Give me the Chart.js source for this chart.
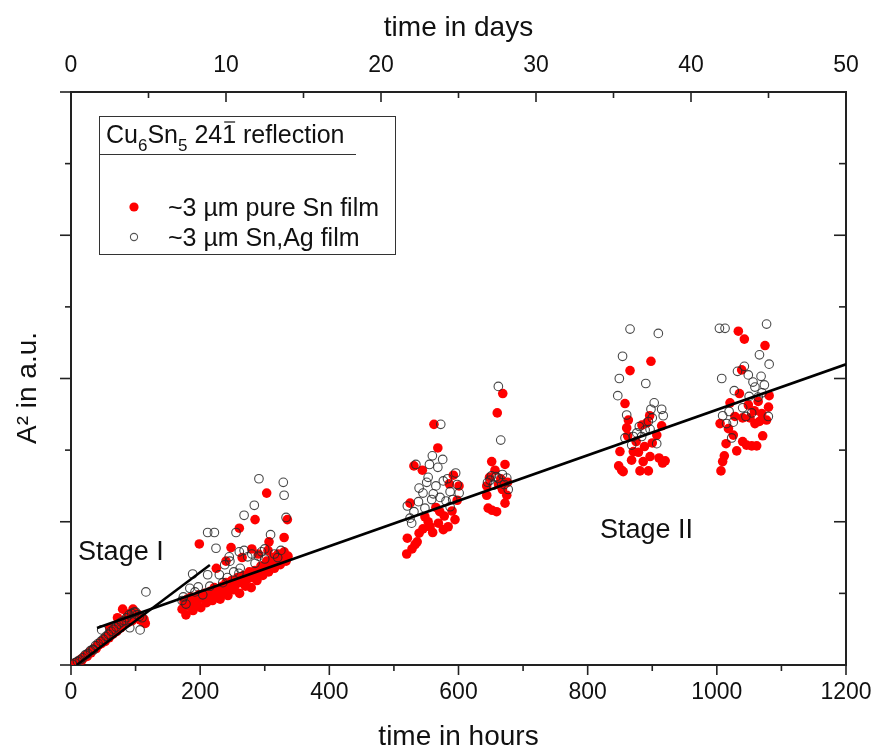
<!DOCTYPE html>
<html>
<head>
<meta charset="utf-8">
<script src="https://cdn.jsdelivr.net/npm/chart.js@4/dist/chart.umd.min.js"></script>
<style>
html,body{margin:0;padding:0;background:#fff;}
#wrap{width:874px;height:751px;position:relative;}
</style>
</head>
<body>
<div id="wrap"><canvas id="c" width="874" height="751"></canvas></div>
<script>
// ---- data (hours, A² in a.u.) ----
const pureSnPoints = [
 [1,0.00],[3,0.01],[5,0.02],[7,0.03],[9,0.03],[11,0.05],[13,0.06],[15,0.08],[17,0.07],[19,0.10],
 [21,0.12],[23,0.13],[25,0.12],[27,0.16],[29,0.18],[31,0.17],[33,0.21],[35,0.22],[37,0.24],[39,0.23],
 [41,0.27],[43,0.28],[45,0.31],[47,0.30],[49,0.34],[51,0.35],[53,0.33],[55,0.39],[57,0.40],[59,0.38],
 [61,0.44],[63,0.45],[65,0.43],[67,0.49],[69,0.50],[71,0.47],[73,0.54],[75,0.55],[77,0.52],[79,0.58],
 [81,0.60],[83,0.57],[85,0.63],[87,0.62],[89,0.60],[91,0.67],[93,0.65],[95,0.62],[97,0.70],[99,0.68],
 [101,0.72],[103,0.66],[105,0.70],[107,0.63],[109,0.67],[111,0.61],[113,0.64],[115,0.58],
 [80,0.78],[72,0.66],[60,0.52],[96,0.78],[88,0.71],
 [172,0.78],[175,0.88],[178,0.70],[180,0.92],[183,0.82],[186,0.95],[189,0.76],[192,0.90],[195,0.85],[198,0.98],
 [201,0.80],[204,0.93],[207,1.00],[210,0.87],[213,0.95],[216,1.03],[219,0.90],[222,1.08],[225,0.98],[228,1.05],
 [231,0.92],[234,1.10],[237,1.02],[240,1.15],[243,0.97],[246,1.08],[249,1.18],[252,1.05],[255,1.12],[258,1.22],
 [261,1.00],[264,1.15],[267,1.25],[270,1.10],[273,1.20],[276,1.30],[279,1.08],[282,1.22],[285,1.32],[288,1.18],
 [291,1.28],[294,1.38],[297,1.25],[300,1.35],[303,1.45],[306,1.30],[309,1.40],[312,1.50],[315,1.35],[318,1.45],
 [321,1.55],[324,1.40],[327,1.50],[330,1.58],[333,1.45],[336,1.52],
 [303,2.40],[285,2.03],[260.6,1.91],[335,2.03],[198.7,1.69],[247.8,1.64],[330,1.78],[306.6,1.72],[290,1.55],
 [280,1.62],[265,1.50],[240,1.45],[225,1.35],[305,1.60],[318,1.52],
 [562,3.36],[568,3.03],[531,2.78],[544,2.72],[592,2.65],[600.8,2.50],[585.8,2.53],[525,2.26],[520.8,1.77],
 [519.8,1.55],[532.7,1.68],[539,1.84],[556,1.93],[548,2.07],[568.8,1.98],[576.5,1.89],[584,1.93],[594.6,2.03],
 [571,2.14],[545,1.90],[528,1.62],[560,1.85],[578,2.08],[590,2.15],[553,2.00],[536,1.72],[598,2.30],[565,2.20],
 [668.5,3.79],[660,3.52],[651.4,2.84],[672,2.80],[656.5,2.72],[665.4,2.60],[643.7,2.50],[643.7,2.37],[674.7,2.37],
 [672,2.26],[646,2.19],[659,2.14],[652,2.16],[668,2.45],[662,2.52],[648,2.62],[676,2.55],
 [898,4.24],[865.6,4.11],[857.8,3.65],[863,3.42],[860.4,3.31],[891.5,3.38],[914.6,3.34],[907,3.21],[875,3.12],
 [850,2.98],[870.7,2.98],[878.6,2.97],[896.6,2.91],[910.5,2.89],[868,2.86],[886,2.84],[916,2.82],[852.6,2.72],
 [881,2.71],[894,2.71],[855,2.70],[888,3.05],[900,3.10],[862,3.20],[920,2.85],[848,2.78],[884,3.35],[896,3.48],
 [1033.3,4.66],[1042.6,4.55],[1074.6,4.46],[1038.5,4.12],[1035,3.79],[1081,3.76],[1020.4,3.66],[1048.8,3.63],
 [1064,3.68],[1069.5,3.51],[1028,3.47],[1005,3.37],[1040,3.45],[1051.4,3.45],[1059,3.37],[1077,3.42],[1025.5,3.21],
 [1071,3.20],[1014.3,3.09],[1040,3.12],[1046,3.07],[1054,3.06],[1061.7,3.06],[1030.8,2.99],[1011.6,2.92],
 [1009,2.84],[1006.4,2.71],[1066,3.40],[1018,3.30],[1058,3.55],[1080,3.60]
];
const snAgPoints = [
 [2,0.01],[6,0.03],[10,0.05],[14,0.07],[18,0.10],[22,0.14],[26,0.16],[30,0.20],[34,0.22],[38,0.27],
 [42,0.30],[46,0.33],[50,0.36],[54,0.40],[58,0.43],[62,0.47],[66,0.50],[70,0.53],[74,0.57],[78,0.60],
 [82,0.62],[86,0.66],[90,0.70],[94,0.72],[98,0.74],[102,0.70],[106,0.68],[110,0.66],
 [47.5,0.49],[100,0.74],[116,1.02],[34.6,0.21],[91,0.52],[107,0.49],
 [291,2.60],[328.7,2.55],[330,2.37],[283.8,2.23],[268,2.09],[333,2.06],[211.6,1.85],[222,1.85],[255.5,1.85],
 [224.5,1.63],[309,1.82],[260.6,1.58],[245,1.51],[246,1.45],[273.6,1.51],[188.4,1.27],[211.6,1.26],[229.7,1.26],
 [242,1.22],[184,1.07],[197,1.09],[174,0.95],[204,0.98],[280,1.55],[295,1.58],[300,1.48],[315,1.55],[320,1.50],
 [178,0.85],[192,1.02],[215,1.10],[235,1.15],[252,1.30],[262,1.35],[285,1.42],[300,1.62],[325,1.60],[268,1.60],
 [290,1.52],[172,0.90],[260,1.28],[238,1.40],
 [572.5,3.36],[559.5,2.92],[575.5,2.87],[534,2.80],[555,2.80],[568,2.76],[550.8,2.55],[576.5,2.57],[595.6,2.68],
 [539,2.47],[561,2.39],[571.4,2.34],[587,2.42],[601,2.40],[538,2.28],[558.5,2.31],[580.7,2.29],[591,2.31],
 [520.8,2.22],[548,2.19],[587,2.21],[531,2.14],[527.5,1.98],[545,2.40],[583,2.60],[598,2.52],[565,2.50],
 [525,2.05],[553,2.62],
 [661.7,3.89],[665.4,3.14],[648.8,2.58],[661.6,2.61],[674.7,2.61],[654,2.51],[677,2.45],[645,2.55],[668,2.66],
 [658,2.63],[671,2.52],[651,2.64],
 [865.6,4.69],[909.4,4.63],[854,4.31],[849,4.00],[890,3.93],[846.6,3.76],[903,3.66],[898,3.57],[914.6,3.57],
 [917,3.48],[860.4,3.49],[880,3.33],[894,3.40],[896.6,3.29],[857.8,3.17],[870.7,3.19],[883.6,3.19],[868.2,3.07],
 [906.9,3.09],[876,3.24],[889,3.28],[900,3.45],
 [1004,4.70],[1012.7,4.70],[1077,4.76],[1066,4.33],[1081,4.20],[1042.6,4.17],[1032,4.10],[1048.7,4.05],
 [1007.6,4.00],[1068.5,4.03],[1073.6,3.91],[1059,3.88],[1027,3.83],[1050,3.75],[1064,3.74],[1040,3.59],
 [1019,3.54],[1054,3.52],[1009,3.48],[1045,3.47],[1015,3.37],[1025.4,3.39],[1079.7,3.47],[1023,3.17],
 [1070,3.80],[1056,3.95]
];
const stageIFit = [[8.8,0.0],[215,1.397]];
const stageIIFit = [[40.3,0.517],[1200,4.198]];

// ---- ticks / labels ----
const hourTicks = [0,100,200,300,400,500,600,700,800,900,1000,1100,1200];
const hourLabels = [0,200,400,600,800,1000,1200];
const dayTicks = [0,5,10,15,20,25,30,35,40,45,50];
const dayLabels = [0,10,20,30,40,50];
const a2Ticks = [0,1,2,3,4,5,6,7,8];
const a2MajorTicks = [0,2,4,6,8];
const yTitle = 'A\u00b2 in a.u.';
const stageLabels = [
  {text:'Stage I', h:11, v:1.57},
  {text:'Stage II', h:819, v:1.88}
];

const FONT = "'Liberation Sans', Arial, Helvetica, sans-serif";
const toXY = arr => arr.map(p => ({x:p[0], y:p[1]}));
const noPadH = s => { s.paddingLeft = 0; s.paddingRight = 0; };
const noPadV = s => { s.paddingTop = 0; s.paddingBottom = 0; };

const decorPlugin = {
  id:'decor',
  afterDraw(chart){
    const {ctx, chartArea:a, scales} = chart;
    const X = scales.x, X2 = scales.x2, Y = scales.y;
    ctx.save();
    ctx.strokeStyle = '#222';
    ctx.lineWidth = 1.6;
    const seg = (x1,y1,x2,y2)=>{ctx.beginPath();ctx.moveTo(x1,y1);ctx.lineTo(x2,y2);ctx.stroke();};
    hourTicks.forEach(h=>{
      const x = X.getPixelForValue(h);
      const len = hourLabels.includes(h) ? 10 : 6;
      seg(x, a.bottom, x, a.bottom+len);
    });
    dayTicks.forEach(d=>{
      if (d===0 || d===50) return;
      const x = X2.getPixelForValue(d);
      const len = dayLabels.includes(d) ? 10 : 6;
      seg(x, a.top, x, a.top+len);
    });
    a2Ticks.forEach(v=>{
      const y = Y.getPixelForValue(v);
      const major = a2MajorTicks.includes(v);
      seg(a.left - (major?11:6), y, a.left, y);
      if (v>0 && v<8) seg(a.right - (major?12:7), y, a.right, y);
    });

    // y axis title
    ctx.fillStyle = '#111';
    ctx.save();
    ctx.translate(28, 388);
    ctx.rotate(-Math.PI/2);
    ctx.font = '28px ' + FONT;
    ctx.textAlign = 'center';
    ctx.textBaseline = 'middle';
    ctx.fillText(yTitle, 0, 0);
    ctx.restore();

    // stage labels
    ctx.font = '27px ' + FONT;
    ctx.textBaseline = 'middle';
    ctx.textAlign = 'left';
    stageLabels.forEach(s=>{
      ctx.fillText(s.text, X.getPixelForValue(s.h), Y.getPixelForValue(s.v));
    });

    // legend box
    const bx = 99, by = 116, bw = 296, bh = 138;
    ctx.lineWidth = 1;
    ctx.strokeStyle = '#333';
    ctx.strokeRect(bx+0.5, by+0.5, bw, bh);
    seg(bx, 154.5, bx+257, 154.5);
    // title
    ctx.textBaseline = 'alphabetic';
    let tx = 106; const ty = 143;
    const big = '25px ' + FONT, small = '17px ' + FONT;
    const put = (t, f, dy)=>{ ctx.font=f; ctx.fillText(t, tx, ty+dy); const w=ctx.measureText(t).width; tx += w; return w; };
    put('Cu', big, 0); put('6', small, 8); put('Sn', big, 0); put('5', small, 8);
    put(' 24', big, 0);
    ctx.font = big;
    const oneX = tx; const oneW = ctx.measureText('1').width;
    put('1', big, 0);
    ctx.lineWidth = 1.4;
    seg(oneX+2, ty-21, oneX+oneW-1, ty-21);
    put(' reflection', big, 0);
    // entries
    ctx.font = '25px ' + FONT;
    ctx.fillStyle = '#ff0000';
    ctx.beginPath(); ctx.arc(134, 207, 4.6, 0, Math.PI*2); ctx.fill();
    ctx.strokeStyle = '#555'; ctx.lineWidth = 1.1;
    ctx.beginPath(); ctx.arc(134, 237, 3.6, 0, Math.PI*2); ctx.stroke();
    ctx.fillStyle = '#111';
    ctx.fillText('~3 \u00b5m pure Sn film', 168, 216);
    ctx.fillText('~3 \u00b5m Sn,Ag film', 168, 246);
    ctx.restore();
  }
};

const chart = new Chart(document.getElementById('c'), {
  type:'scatter',
  data:{
    datasets:[
      {label:'stage I fit', type:'line', data:toXY(stageIFit), borderColor:'#000', borderWidth:2.5,
       pointRadius:0, showLine:true, fill:false, order:0},
      {label:'stage II fit', type:'line', data:toXY(stageIIFit), borderColor:'#000', borderWidth:2.7,
       pointRadius:0, showLine:true, fill:false, order:0},
      {label:'~3 µm Sn,Ag film', data:toXY(snAgPoints), pointRadius:4.3, pointBorderWidth:1.1,
       pointBorderColor:'rgba(40,40,40,0.85)', pointBackgroundColor:'rgba(255,255,255,0)', order:1},
      {label:'~3 µm pure Sn film', data:toXY(pureSnPoints), pointRadius:4.8, pointBorderWidth:0,
       pointBackgroundColor:'#ff0000', pointBorderColor:'#ff0000', order:2}
    ]
  },
  options:{
    responsive:false,
    animation:false,
    devicePixelRatio:1,
    layout:{padding:0},
    plugins:{legend:{display:false}, tooltip:{enabled:false}},
    scales:{
      x:{type:'linear', position:'bottom', min:0, max:1200,
         afterBuildTicks:s=>{ s.ticks = hourTicks.map(v=>({value:v})); },
         afterFit:s=>{ s.height = 86; noPadH(s); },
         grid:{display:false, drawTicks:false},
         border:{display:true, color:'#222', width:2},
         ticks:{autoSkip:false, maxRotation:0, padding:14, color:'#111', font:{family:FONT, size:23},
                callback:v=> hourLabels.includes(v) ? String(v) : ''},
         title:{display:true, text:'time in hours', color:'#111', font:{family:FONT, size:28, lineHeight:1.0},
                padding:{top:0,bottom:0}}},
      x2:{type:'linear', position:'top', min:0, max:50,
         afterBuildTicks:s=>{ s.ticks = dayTicks.map(v=>({value:v})); },
         afterFit:s=>{ s.height = 92; noPadH(s); },
         grid:{display:false, drawTicks:false},
         border:{display:true, color:'#222', width:2},
         ticks:{autoSkip:false, maxRotation:0, padding:13, color:'#111', font:{family:FONT, size:23},
                callback:v=> dayLabels.includes(v) ? String(v) : ''},
         title:{display:true, text:'time in days', color:'#111', font:{family:FONT, size:28, lineHeight:1.0},
                padding:{top:14,bottom:0}}},
      y:{type:'linear', position:'left', min:0, max:8,
         afterBuildTicks:s=>{ s.ticks = a2Ticks.map(v=>({value:v})); },
         afterFit:s=>{ s.width = 71; noPadV(s); },
         grid:{display:false, drawTicks:false},
         border:{display:true, color:'#222', width:2},
         ticks:{display:false},
         title:{display:false}},
      y2:{type:'linear', position:'right', min:0, max:8,
         afterFit:s=>{ s.width = 28; noPadV(s); },
         grid:{display:false, drawTicks:false},
         border:{display:true, color:'#222', width:2},
         ticks:{display:false}}
    }
  },
  plugins:[decorPlugin]
});
</script>
</body>
</html>
